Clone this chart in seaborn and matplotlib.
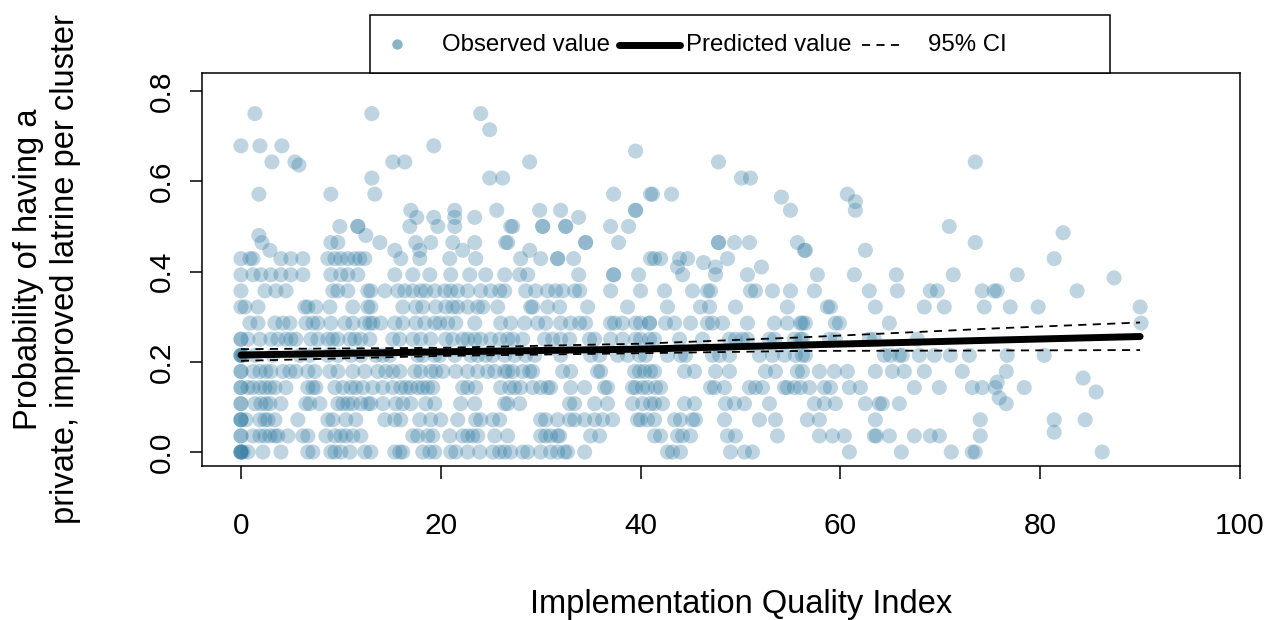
import matplotlib
matplotlib.use("Agg")
import matplotlib.pyplot as plt
import numpy as np
import pandas as pd
import seaborn as sns
from matplotlib.lines import Line2D
from matplotlib.patches import Rectangle

# Implementation Quality Index of each cluster, grouped by the observed
# probability level (level k means a probability of k/28)
iqi_k00 = [0, 0, 0, 0, 0.2, 0.7, 2.2, 4, 6.7, 7.2, 9, 9.4, 10, 10.9, 12.4, 13, 15.4, 15.9, 16.2, 18.2, 18.9,
           19.4, 21, 21.5, 22.7, 23.9, 25.2, 25.9, 26.4, 27, 28.2, 28.7, 30, 31, 31.7, 32.4, 32.7, 34.4,
           42.7, 43.2, 44, 49, 50.4, 51.2, 60.9, 66.1, 71.1, 73.2, 73.5, 86.2]
iqi_k01 = [0, 0, 1.2, 1.9, 2.4, 2.9, 3.4, 3.7, 4.7, 6.2, 6.7, 8.5, 9.4, 10, 10.5, 11.2, 12.0, 17.2, 17.7,
           18.7, 19.2, 20.9, 22.2, 22.7, 23.2, 23.7, 25.4, 26.7, 30, 30.5, 31, 31.7, 31.9, 35, 35.9, 41.4,
           42, 43.7, 44.2, 45, 48.7, 49.5, 53.7, 57.9, 59.2, 60.4, 63.4, 63.6, 64.9, 67.4, 69, 69.9, 74]
iqi_k02 = [0, 0, 0, 0.5, 1.9, 2.4, 2.7, 3.4, 5.7, 8.7, 9.2, 10.5, 11.5, 14.4, 15.4, 16, 17.9, 19, 20, 21.7,
           23.5, 24, 25.2, 25.9, 30, 30.5, 31.7, 32.9, 33.4, 34.4, 35.4, 36.2, 37.2, 39.7, 40, 40.7, 41.4,
           43.4, 44, 45.2, 45.5, 48.4, 51.9, 53.5, 56.7, 57.9, 63.5, 74, 81.4, 84.5]
iqi_k03 = [0, 0, 1.4, 2, 2.5, 2.9, 4, 6.5, 6.9, 7.9, 9.7, 10.2, 10.7, 11.2, 12, 12.7, 13, 14.2, 15.5, 16.2,
           17, 18.5, 19.4, 22, 23.4, 26.4, 26.7, 27.9, 32.9, 33.4, 35.4, 36.7, 39.2, 40.2, 41, 41.4, 42.2,
           44.4, 45.4, 48.5, 49.4, 50.4, 52.9, 57.4, 58.4, 59.5, 62.5, 63.9, 64.2, 65.9, 76.6]
iqi_k04 = [0, 0, 0.7, 1.2, 1.9, 2.4, 2.9, 3.4, 4.5, 6.7, 7.2, 7.5, 9.4, 10.2, 11, 11.5, 12.2, 13.2, 14.2,
           15.2, 16, 16.5, 17, 17.7, 18.2, 18.7, 19.2, 22.2, 22.7, 23.5, 26, 26.9, 27.4, 28, 29.2, 30, 30.7,
           31, 33, 34.4, 36.4, 36.7, 39.2, 39.5, 40.2, 40.7, 41.5, 42, 47, 47.4, 48.4, 50.9, 51.5, 52.2,
           54.4, 54.7, 55.4, 56, 56.9, 58.4, 59, 60.9, 62, 67.4, 69.9, 73.2, 74.2, 75.5, 78.4]
iqi_k05 = [0, 0, 1.2, 1.9, 2.5, 3, 4.2, 4.9, 5.5, 6.7, 7.4, 8.9, 9.7, 11.2, 12.4, 13.7, 14.5, 15.2, 15.9,
           17.4, 18, 19, 19.5, 20.2, 21.5, 22.7, 23.7, 24.7, 25.4, 26.4, 26.7, 27.2, 28.2, 28.9, 29.2, 32.2,
           33, 35.7, 36, 39.4, 39.9, 40.4, 41, 41.4, 44.4, 45.4, 47.5, 48.9, 52.5, 53.5, 55.7, 56.2, 57.9,
           59.4, 60.7, 63.5, 65.2, 66.4, 68.4, 72.2, 76.6]
iqi_k06 = [0, 0, 0, 0.2, 1.4, 3.2, 5.9, 6.9, 8.7, 9.7, 11, 12, 13.5, 14.2, 14.9, 17.7, 18.2, 19.4, 19.9,
           21.4, 23, 23.7, 24.5, 25.2, 26.4, 27.4, 28.5, 29.4, 32, 35, 35.9, 37.7, 38.7, 39.9, 40.5, 42.7,
           44, 44.5, 47.2, 47.9, 48.9, 51.9, 53.2, 54.4, 55.5, 56.2, 56.5, 64.4, 65, 65.9, 66.2, 67.9, 69.4,
           71, 72.9, 76.7, 80.4]
iqi_k07 = [0, 0, 0.7, 1.9, 3, 3.7, 4.5, 5, 5.5, 7, 7.7, 8.7, 9.2, 9.7, 10.9, 11.4, 12, 12.9, 15.2, 15.9,
           17.2, 18, 19, 20.5, 21.2, 22.2, 22.7, 23.4, 24, 25, 25.9, 26.7, 27.2, 28.2, 30.4, 31.2, 32, 32.9,
           34.9, 35.4, 37, 38.2, 39.5, 40, 40.9, 41.4, 43.9, 46.2, 48.9, 49.5, 50.2, 50.7, 52.9, 53.4, 55.4,
           56, 56.2, 58.9, 59.5, 62.9, 63.4, 67.7]
iqi_k08 = [0.9, 1.7, 3.4, 4.2, 4.9, 6.5, 7.2, 7.7, 9, 10.4, 11.2, 12.4, 12.9, 13.2, 14, 15.4, 16.2, 17.5,
           18.4, 19.4, 19.9, 20.7, 21.5, 23.4, 26, 27, 28.4, 29.7, 30.5, 32, 33, 33.9, 34.5, 37, 37.4, 38.2,
           39.5, 40, 40.9, 40.9, 42.5, 43.4, 45, 46.7, 47.2, 48.2, 50.7, 53.4, 54.7, 56, 56.2, 56.5, 59.5,
           59.9, 64.9, 90.1]
iqi_k09 = [0, 0.4, 1.7, 6.4, 6.7, 7.5, 8.9, 11.2, 12.7, 13, 16.2, 17.5, 18.2, 19.5, 20.5, 21.2, 21.7,
           22.7, 23.7, 24.2, 25.7, 29, 29.2, 30.7, 31.9, 34.7, 38.7, 42.7, 46, 46.9, 49.5, 54.7, 58.7, 59,
           63.5, 68.4, 70.4, 74.4, 77, 79.8, 90]
iqi_k10 = [0, 2.4, 3.5, 4.5, 9.2, 9.7, 10.7, 12.7, 13, 14.4, 15.7, 16.4, 17.2, 18, 18.5, 19.4, 20.4, 21,
           21.7, 22.7, 24, 25, 25.9, 26.4, 28.5, 29.5, 30.7, 31.5, 32.2, 33.4, 33.9, 37, 40, 42.4, 45.2,
           46.7, 47, 51, 51.5, 53.2, 55, 57.4, 62.9, 65.7, 69, 69.7, 74.2, 75.4, 75.7, 83.7]
iqi_k11 = [0, 1.2, 2, 3, 4, 5, 6.2, 9, 10, 10.7, 11.7, 15.4, 17.2, 18.9, 21, 22.9, 24.5, 26.4, 27.9,
           28.7, 33.8, 37.3, 37.3, 39.8, 44.2, 47.5, 50.7, 57.7, 61.4, 65.6, 71.3, 77.7]
iqi_k12 = [0, 0.9, 1.2, 4, 5, 6.2, 8.7, 9.4, 10, 10.7, 11.4, 11.9, 12.4, 16, 17.9, 20.9, 23.5, 28, 30,
           31.7, 31.7, 33.3, 41, 41.4, 42, 43.9, 44.7, 48.7, 81.4]
iqi_k13 = [2.1, 9, 9.7, 13.9, 17.5, 19, 21.2, 23.4, 26.5, 26.7, 34.5, 34.5, 37.8, 47.8, 47.8, 49.4, 50.9,
           55.7, 73.5]
iqi_k14 = [9.9, 11.7, 11.7, 16.9, 19.7, 21.4, 27, 27.2, 30.2, 30.2, 32.5, 32.5, 37, 38.8, 70.9]
iqi_k15 = [17, 21.4, 25.6, 29.9, 32, 39.5, 39.5, 55, 61.5]
iqi_k16 = [1.8, 9, 13.4, 37.3, 41, 41.2, 43.1, 60.7]
iqi_k17 = [13.1, 24.9, 26.2, 50.1, 51]
iqi_k18 = [3.1, 5.4, 15.2, 16.4, 28.9, 47.8, 73.5]
iqi_k19 = [0, 1.9, 4.1, 19.3]
iqi_k20 = [24.9]
iqi_k21 = [1.4, 13.1, 24]

# Clusters whose probability falls between those levels
other_iqi = [75.9, 81.4, 84.3, 85.6, 75.7, 87.4, 82.3, 1.8, 12.5, 2.9, 15.4, 17.9, 22.2, 28.9, 56.4,
             56.5, 62.5, 17.6, 19.3, 21.4, 23.4, 33.8, 61.5, 54.1, 5.8, 39.5, 46.3, 47.5, 43.7, 52.1]
other_prob = [0.12, 0.044, 0.164, 0.133, 0.155, 0.386, 0.486, 0.48, 0.48, 0.447, 0.447, 0.447, 0.447,
              0.447, 0.447, 0.447, 0.447, 0.52, 0.52, 0.52, 0.52, 0.52, 0.555, 0.565, 0.636, 0.667,
              0.42, 0.41, 0.41, 0.41]

# Fitted probability and its 95% confidence band
pred_iqi = [0, 20, 40, 56, 75.5, 90]
pred_prob = [0.215, 0.222, 0.228, 0.237, 0.248, 0.256]
ci_upper = [0.228, 0.231, 0.240, 0.254, 0.274, 0.287]
ci_lower = [0.202, 0.213, 0.219, 0.224, 0.225, 0.226]

x_ticks = [0, 20, 40, 60, 80, 100]
y_ticks = [0.0, 0.2, 0.4, 0.6, 0.8]

levels = [iqi_k00, iqi_k01, iqi_k02, iqi_k03, iqi_k04, iqi_k05, iqi_k06, iqi_k07, iqi_k08, iqi_k09,
          iqi_k10, iqi_k11, iqi_k12, iqi_k13, iqi_k14, iqi_k15, iqi_k16, iqi_k17, iqi_k18, iqi_k19,
          iqi_k20, iqi_k21]
rows_x, rows_y = [], []
for k, xs in enumerate(levels):
    rows_x += list(xs)
    rows_y += [k / 28] * len(xs)
rows_x += other_iqi
rows_y += other_prob
obs = pd.DataFrame({"iqi": rows_x, "prob": rows_y})
fit = pd.DataFrame({"iqi": pred_iqi, "pred": pred_prob, "lo": ci_lower, "hi": ci_upper})

sns.set_style("ticks")
plt.rcParams["font.family"] = ["Liberation Sans", "DejaVu Sans"]
plt.rcParams["text.color"] = "black"
plt.rcParams["xtick.color"] = "black"
plt.rcParams["ytick.color"] = "black"
plt.rcParams["axes.labelcolor"] = "black"

W, H = 1269, 620
fig = plt.figure(figsize=(W / 100, H / 100), dpi=100)
L, R, T, B = 202, 1240, 73, 466
ax = fig.add_axes([L / W, 1 - B / H, (R - L) / W, (B - T) / H])

point_color = "#2a769e"
sns.scatterplot(data=obs, x="iqi", y="prob", ax=ax, s=118, color=point_color, alpha=0.3,
                edgecolor="none", linewidth=0, legend=False, zorder=2)
sns.lineplot(data=fit, x="iqi", y="pred", ax=ax, color="black", linewidth=5,
             solid_capstyle="round", zorder=4)
for col in ["lo", "hi"]:
    sns.lineplot(data=fit, x="iqi", y=col, ax=ax, color="black", linewidth=1.3,
                 zorder=3).lines[-1].set_dashes([4.5, 3.5])

ax.set_xlim(-3.9, 100)
ax.set_ylim(-0.031, 0.84)
ax.set_xticks(x_ticks)
ax.set_xticklabels([str(t) for t in x_ticks])
ax.set_yticks(y_ticks)
ax.set_yticklabels([f"{t:.1f}" for t in y_ticks], rotation=90, va="center")
ax.tick_params(axis="both", labelsize=21.5, length=9, width=1.1, color="black")
ax.tick_params(axis="x", pad=24)
ax.tick_params(axis="y", pad=10)
for sp in ax.spines.values():
    sp.set_visible(True)
    sp.set_linewidth(1.1)
    sp.set_color("black")
ax.set_xlabel("")
ax.set_ylabel("")

fx = lambda px: px / W
fy = lambda py: 1 - py / H

# axis titles; both lines of the y title are centred on the plot region
mid_y = (T + B) / 2
fig.text(fx(741), fy(605), "Implementation Quality Index", ha="center", va="center", fontsize=23.5)
fig.text(fx(29), fy(mid_y), "Probability of having a", rotation=90, ha="center", va="center",
         fontsize=23.5)
fig.text(fx(66), fy(mid_y), "private, improved latrine per cluster", rotation=90, ha="center",
         va="center", fontsize=23.5)

# legend box drawn across the top edge of the plot
fig.add_artist(Rectangle((fx(370), fy(73)), fx(1110) - fx(370), fy(15) - fy(73), transform=fig.transFigure,
                         facecolor="white", edgecolor="black", linewidth=1.1, zorder=10))
fig.add_artist(Line2D([fx(397)], [fy(44)], marker="o", markersize=7.5, color=point_color, alpha=0.55,
                      markeredgewidth=0, linestyle="none", transform=fig.transFigure, zorder=11))
fig.text(fx(442), fy(45), "Observed value", fontsize=17.3, va="center", ha="left", zorder=11)
fig.add_artist(Line2D([fx(619), fx(680)], [fy(45), fy(45)], color="black", linewidth=5,
                      solid_capstyle="round", transform=fig.transFigure, zorder=11))
fig.text(fx(686), fy(45), "Predicted value", fontsize=17.3, va="center", ha="left", zorder=11)
fig.add_artist(Line2D([fx(862), fx(905)], [fy(45), fy(45)], color="black", linewidth=1.3,
                      dashes=[4.5, 3.5], transform=fig.transFigure, zorder=11))
fig.text(fx(928), fy(45), "95% CI", fontsize=17.3, va="center", ha="left", zorder=11)

fig.savefig("out.png", dpi=100)
